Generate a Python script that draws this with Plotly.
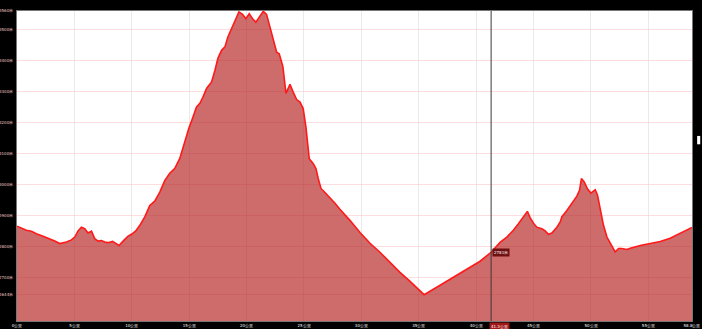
import plotly.graph_objects as go

distance_km = [0.00, 0.38, 0.82, 1.26, 1.69, 2.27, 2.85, 3.29, 3.72, 4.31, 4.74, 5.03, 5.32, 5.61, 5.90,
               6.19, 6.49, 6.77, 7.06, 7.36, 7.65, 7.93, 8.32, 8.61, 8.89, 9.24, 9.68, 9.97, 10.35, 10.70,
               11.13, 11.57, 12.00, 12.44, 12.88, 13.31, 13.75, 14.18, 14.62, 14.97, 15.23, 15.64, 15.93,
               16.19, 16.51, 16.95, 17.24, 17.50, 17.82, 18.11, 18.37, 18.69, 18.98, 19.33, 19.65, 19.94,
               20.23, 20.52, 20.81, 21.16, 21.45, 21.74, 22.03, 22.32, 22.62, 22.84, 23.16, 23.43, 23.78,
               24.06, 24.36, 24.65, 24.93, 25.17, 25.46, 25.81, 26.04, 26.24, 26.48, 26.83, 27.26, 27.70,
               28.13, 28.57, 29.00, 29.88, 30.75, 31.62, 32.49, 33.36, 34.24, 35.11, 35.46, 35.98, 36.85,
               37.72, 38.60, 39.47, 40.34, 41.30, 42.08, 42.67, 43.24, 43.68, 44.11, 44.46, 44.70, 44.99,
               45.28, 45.72, 46.01, 46.29, 46.59, 47.03, 47.32, 47.46, 47.90, 48.33, 48.77, 49.00, 49.17,
               49.41, 49.69, 49.99, 50.37, 50.57, 50.80, 51.09, 51.39, 51.76, 52.11, 52.40, 52.69, 53.13,
               53.42, 54.29, 55.16, 56.03, 56.90, 57.78, 58.80]
elevation_m = [2865, 2860, 2852, 2849, 2841, 2833, 2825, 2817, 2809, 2814, 2821, 2830, 2850, 2862, 2857,
               2843, 2849, 2825, 2817, 2819, 2814, 2812, 2816, 2809, 2803, 2817, 2833, 2839, 2850, 2868,
               2895, 2932, 2946, 2975, 3013, 3036, 3052, 3084, 3142, 3181, 3207, 3250, 3262,
               3281, 3310, 3331, 3368, 3407, 3433, 3444, 3476, 3503, 3530, 3557, 3549, 3535,
               3551, 3535, 3524, 3541, 3559, 3549, 3508, 3476, 3427, 3422, 3381, 3294, 3323,
               3298, 3274, 3266, 3245, 3185, 3083, 3067, 3051, 3019, 2987, 2974, 2958, 2939,
               2920, 2903, 2884, 2845, 2810, 2781, 2748, 2716, 2687, 2658, 2644, 2655, 2674,
               2694, 2713, 2732, 2752, 2781, 2813, 2830, 2852, 2873, 2893, 2913, 2893, 2875,
               2862, 2857, 2850, 2839, 2843, 2862, 2879, 2895, 2916, 2938, 2962, 2981, 3019,
               3008, 2986, 2972, 2983, 2965, 2922, 2868, 2830, 2803, 2782, 2793, 2793, 2790,
               2794, 2803, 2810, 2816, 2826, 2842, 2861]

x_tick_vals = [0, 5, 10, 15, 20, 25, 30, 35, 40, 45, 50, 55, 58.8]
x_tick_text = ["0公里", "5公里", "10公里", "15公里", "20公里", "25公里", "30公里", "35公里",
               "40公里", "45公里", "50公里", "55公里", "58.8公里"]
y_tick_vals = [2644, 2700, 2800, 2900, 3000, 3100, 3200, 3300, 3400, 3500, 3560]
y_tick_text = ["2644米", "2700米", "2800米", "2900米", "3000米", "3100米", "3200米", "3300米",
               "3400米", "3500米", "3560米"]

cursor_km = 41.3
cursor_elev = 2781

fig = go.Figure()
fig.add_trace(go.Scatter(
    x=distance_km, y=elevation_m, mode="lines",
    line=dict(color="#ff1a1a", width=1.6),
    fill="tozeroy", fillcolor="rgba(180,30,30,0.66)",
    hoverinfo="skip",
))

fig.add_shape(type="line", xref="x", yref="paper", x0=cursor_km, x1=cursor_km, y0=0, y1=1,
              line=dict(color="#3a3a3a", width=1))

fig.add_annotation(x=cursor_km, y=cursor_elev, xref="x", yref="y", text=f"{cursor_elev}米",
                   showarrow=False, xanchor="left", yanchor="middle", xshift=1,
                   bgcolor="#6e1010", borderpad=1,
                   font=dict(color="#ffffff", size=4, family="DejaVu Sans"))
fig.add_annotation(x=cursor_km, y=0, xref="x", yref="paper", text=f"{cursor_km}公里",
                   showarrow=False, xanchor="left", yanchor="top", yshift=-1, xshift=-2,
                   bgcolor="#a01818", borderpad=1,
                   font=dict(color="#ffffff", size=4, family="DejaVu Sans"))

# small scrollbar thumb on right edge
fig.add_shape(type="rect", xref="paper", yref="paper", x0=1.0076, x1=1.0122, y0=0.57, y1=0.597,
              fillcolor="#ffffff", line=dict(width=0), layer="above")

fig.update_layout(
    width=702, height=329,
    margin=dict(l=17, r=10, t=11, b=8, autoexpand=False),
    paper_bgcolor="#000000", plot_bgcolor="#ffffff",
    showlegend=False,
    font=dict(family="DejaVu Sans", size=4, color="#f2d0d0"),
    xaxis=dict(range=[0, 58.8], tickvals=x_tick_vals, ticktext=x_tick_text,
               showgrid=True, gridcolor="rgba(225,225,225,0.7)", gridwidth=1,
               zeroline=False, showline=True, linecolor="#777777", mirror=True,
               ticks="", ticklabelstandoff=0, tickfont=dict(size=4, color="#ffffff"),
               automargin=False, fixedrange=True),
    yaxis=dict(range=[2559, 3560], tickvals=y_tick_vals, ticktext=y_tick_text,
               showgrid=True, gridcolor="rgba(250,200,200,0.6)", gridwidth=1,
               zeroline=False, showline=True, linecolor="#777777", mirror=True,
               ticks="", ticklabelstandoff=2, tickfont=dict(size=4, color="#f2c8c8"),
               automargin=False, fixedrange=True),
)

fig.write_html("out.html")
